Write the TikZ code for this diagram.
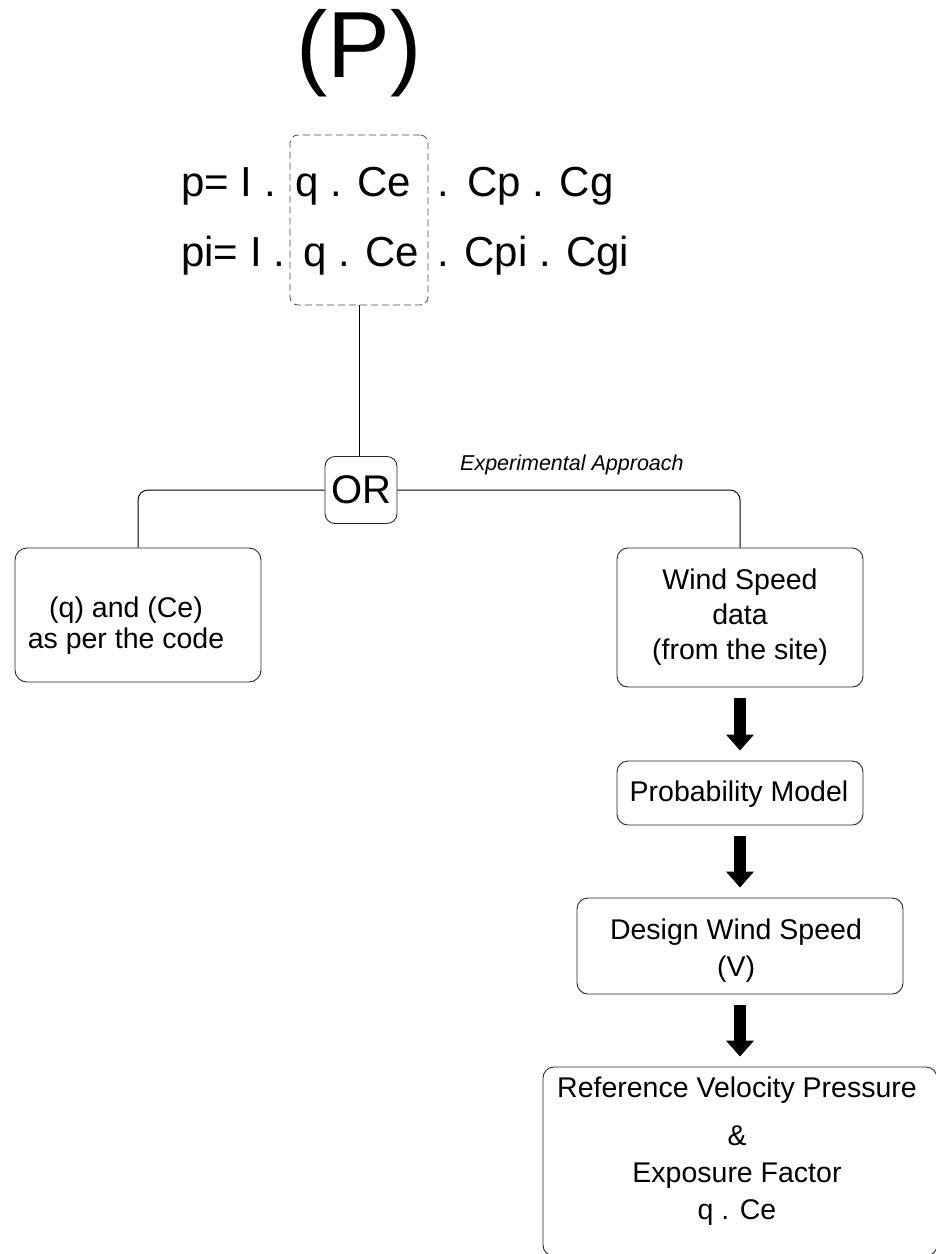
\documentclass[tikz,border=0pt]{standalone}
\usepackage{fontspec}
\setmainfont{Liberation Sans}
\usetikzlibrary{arrows.meta}
\newcommand\fsz[2]{\fontsize{#1}{#2}\selectfont}
\begin{document}
\begin{tikzpicture}[x=1pt,y=-1pt,
  box/.style={draw=black!85, line width=0.9pt, rounded corners=11pt, inner sep=0pt},
  txt/.style={inner sep=0pt, align=center, font=\fsz{28.5}{35}},
  eq/.style={inner sep=0pt, anchor=base west, font=\fsz{42}{42}},
  link/.style={draw=black, line width=1pt, rounded corners=10pt},
  fat/.style={line width=11.5pt, -{Triangle[length=16pt,width=27pt]}, shorten <=11pt, shorten >=10pt}]
\useasboundingbox (0,0) rectangle (936,1254);
\clip (0,0) rectangle (936,1254);

% title
\node[inner sep=0pt, anchor=base, font=\fsz{94}{94}] (P) at (359,77) {(P)};

% equations
\node[eq] (l1a) at (181,196) {p= I .};
\node[eq] (l1b) at (295,196) {q . Ce};
\node[eq] (l1c) at (437,196) {.};
\node[eq] (l1d) at (467,196) {Cp . Cg};
\node[eq] (l2a) at (181,266) {pi= I .};
\node[eq] (l2b) at (303,266) {q . Ce};
\node[eq] (l2c) at (437,266) {. Cpi . Cgi};

% dashed group
\node[draw=black!70, dash pattern=on 7pt off 4pt, line width=0.8pt, rounded corners=8pt,
      minimum width=138pt, minimum height=170pt, inner sep=0pt] (qce) at (359,220) {};

% OR node
\node[box, rounded corners=10pt, minimum width=72pt, minimum height=67pt, font=\fsz{40}{40}] (or) at (361,490) {OR};
\node[inner sep=0pt, anchor=base west, font=\fsz{21.5}{21.5}\itshape] (exp) at (460,470) {Experimental Approach};

% left branch
\node[box, rounded corners=12pt, minimum width=246pt, minimum height=134pt] (left) at (138,615) {};
\node[txt, font=\fsz{28.5}{31}] (lefttxt) at (126,626) {(q) and (Ce)\\as per the code};

% right branch
\node[box, minimum width=246pt, minimum height=139pt] (wind) at (740,617.5) {};
\node[txt] (windtxt) at (740,617.6) {Wind Speed\\data\\(from the site)};

\node[box, minimum width=246pt, minimum height=64pt] (prob) at (740,793) {};
\node[txt] (probtxt) at (739,794.6) {Probability Model};

\node[box, minimum width=326pt, minimum height=96pt] (design) at (740,946) {};
\node[txt, font=\fsz{28.5}{37}] (designtxt) at (736,951) {Design Wind Speed\\(V)};

\node[box, minimum width=394pt, minimum height=189pt] (ref) at (740,1161.5) {};
\node[txt, font=\fsz{28.5}{37}] (reftxt) at (737,1151.5) {Reference Velocity Pressure\\[11pt]\&\\Exposure Factor\\q . Ce};

% connectors
\draw[link] (qce.south) -- (qce.south |- or.north);
\draw[link] (or.west) -| (left.north);
\draw[link] (or.east) -| (wind.north);

\draw[fat] (wind.south) -- (prob.north);
\draw[fat] (prob.south) -- (design.north);
\draw[fat] (design.south) -- (ref.north);
\end{tikzpicture}
\end{document}
